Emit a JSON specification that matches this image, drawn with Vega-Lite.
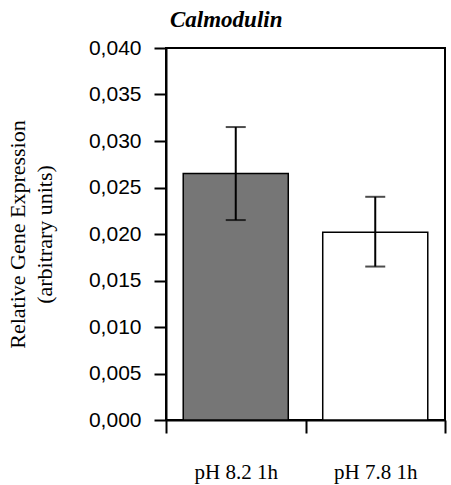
{
  "$schema": "https://vega.github.io/schema/vega-lite/v6.json",
  "width": 279,
  "height": 372,
  "autosize": {"type": "none"},
  "padding": {"left": 166, "top": 48, "right": 6, "bottom": 65},
  "background": "white",
  "config": {
    "locale": {"number": {"decimal": ",", "thousands": ".", "grouping": [3], "currency": ["", "€"]}},
    "view": {"stroke": "black", "strokeWidth": 2},
    "axis": {"grid": false}
  },
  "title": {
    "text": "Calmodulin",
    "font": "Liberation Serif",
    "fontSize": 23,
    "fontStyle": "italic",
    "fontWeight": "bold",
    "color": "black",
    "anchor": "start",
    "frame": "group",
    "dx": 4,
    "offset": 5
  },
  "data": {
    "values": [
      {"group": "pH 8.2 1h", "value": 0.0265, "lo": 0.0215, "hi": 0.0315, "treatment": "8.2"},
      {"group": "pH 7.8 1h", "value": 0.0202, "lo": 0.0165, "hi": 0.0240, "treatment": "7.8"}
    ]
  },
  "encoding": {
    "x": {
      "field": "group",
      "type": "nominal",
      "sort": null,
      "scale": {"paddingInner": 0, "paddingOuter": 0},
      "axis": {
        "title": null,
        "labelAngle": 0,
        "tickBand": "extent",
        "labelFont": "Liberation Serif",
        "labelFontSize": 21,
        "labelColor": "black",
        "labelPadding": 28,
        "tickSize": 13,
        "tickWidth": 2,
        "tickColor": "black",
        "domainColor": "black",
        "domainWidth": 2
      }
    }
  },
  "layer": [
    {
      "mark": {"type": "bar", "stroke": "black", "strokeWidth": 1.5, "width": {"band": 0.753}},
      "encoding": {
        "y": {
          "field": "value",
          "type": "quantitative",
          "scale": {"domain": [0, 0.04], "nice": false},
          "axis": {
            "values": [0, 0.005, 0.01, 0.015, 0.02, 0.025, 0.03, 0.035, 0.04],
            "format": ".3f",
            "title": ["Relative Gene Expression", "(arbitrary units)"],
            "titleFont": "Liberation Serif",
            "titleFontSize": 22,
            "titleFontWeight": "normal",
            "titleColor": "black",
            "titleLineHeight": 27,
            "titlePadding": 32,
            "labelFont": "Liberation Sans",
            "labelFontSize": 21,
            "labelColor": "black",
            "labelPadding": 13,
            "tickSize": 12,
            "tickWidth": 2,
            "tickColor": "black",
            "domainColor": "black",
            "domainWidth": 2
          }
        },
        "fill": {
          "field": "treatment",
          "type": "nominal",
          "scale": {"domain": ["8.2", "7.8"], "range": ["#767676", "#ffffff"]},
          "legend": null
        }
      }
    },
    {
      "mark": {"type": "rule", "color": "black", "strokeWidth": 2},
      "encoding": {
        "y": {"field": "lo", "type": "quantitative"},
        "y2": {"field": "hi"}
      }
    },
    {
      "mark": {"type": "tick", "color": "black", "size": 20, "thickness": 2},
      "encoding": {"y": {"field": "lo", "type": "quantitative"}}
    },
    {
      "mark": {"type": "tick", "color": "black", "size": 20, "thickness": 2},
      "encoding": {"y": {"field": "hi", "type": "quantitative"}}
    }
  ]
}
